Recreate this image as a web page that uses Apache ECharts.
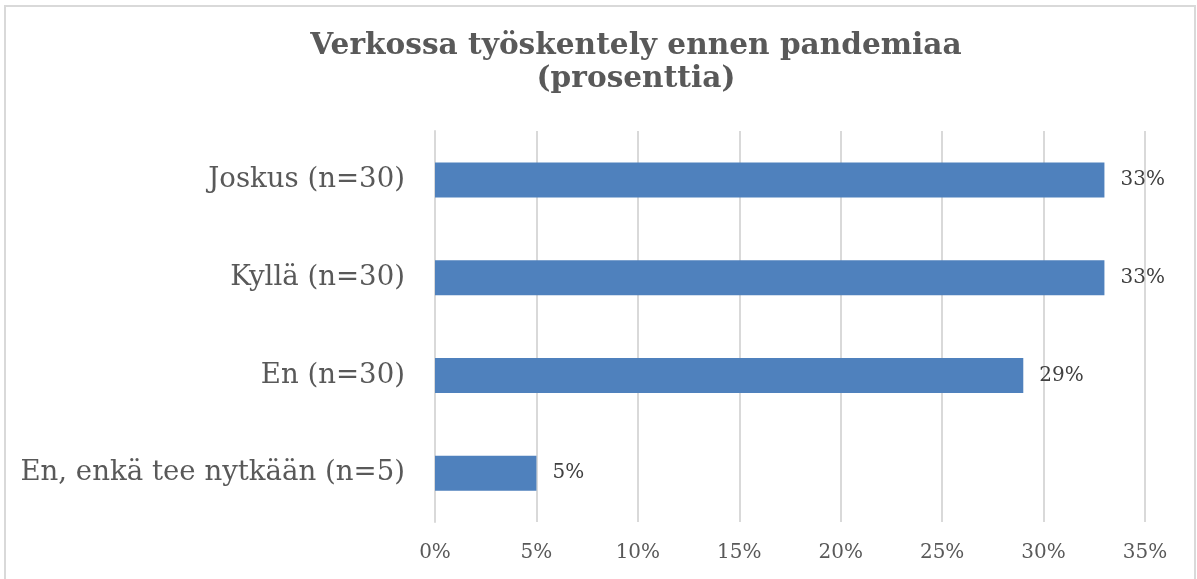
<!DOCTYPE html>
<html>
<head>
<meta charset="utf-8">
<script src="https://cdn.jsdelivr.net/npm/echarts@6/dist/echarts.min.js"></script>
<style>
html,body{margin:0;padding:0;background:#fff;}
#chart{width:1197px;height:579px;}
</style>
</head>
<body>
<div id="chart"></div>
<script>
const titleText = 'Verkossa työskentely ennen pandemiaa\n(prosenttia)';
const categories = ['Joskus (n=30)', 'Kyllä (n=30)', 'En (n=30)', 'En, enkä tee nytkään (n=5)'];
const values = [33, 33, 29, 5];
const axisMin = 0;
const axisMax = 35;
const axisStep = 5;

const chart = echarts.init(document.getElementById('chart'));
const serif = '"DejaVu Serif", "Liberation Serif", serif';
chart.setOption({
  animation: false,
  backgroundColor: '#ffffff',
  graphic: [{
    type: 'rect',
    shape: { x: 5, y: 6, width: 1190, height: 620 },
    style: { fill: 'none', stroke: '#d9d9d9', lineWidth: 2 },
    silent: true
  }],
  title: {
    text: titleText,
    left: 631,
    top: 25,
    textAlign: 'center',
    textStyle: {
      fontFamily: serif,
      fontWeight: 'bold',
      fontSize: 29.6,
      lineHeight: 33,
      color: '#595959'
    }
  },
  grid: { left: 435, right: 52, top: 131, bottom: 57, containLabel: false },
  xAxis: {
    type: 'value',
    min: axisMin,
    max: axisMax,
    interval: axisStep,
    axisLine: { show: false },
    axisTick: { show: false },
    splitLine: { show: true, lineStyle: { color: '#d9d9d9', width: 2 } },
    axisLabel: {
      formatter: v => v + '%',
      fontFamily: serif,
      fontSize: 20,
      color: '#595959',
      margin: 21
    }
  },
  yAxis: {
    type: 'category',
    inverse: true,
    data: categories,
    axisLine: { show: true, lineStyle: { color: '#d9d9d9', width: 2 } },
    axisTick: { show: false },
    axisLabel: {
      fontFamily: serif,
      fontSize: 27.6,
      color: '#595959',
      margin: 30
    }
  },
  series: [{
    type: 'bar',
    data: values,
    barWidth: 35,
    itemStyle: { color: '#4f81bd' },
    label: {
      show: true,
      position: 'right',
      distance: 16,
      formatter: p => p.value + '%',
      fontFamily: serif,
      fontSize: 20,
      color: '#404040'
    }
  }]
});
</script>
</body>
</html>
